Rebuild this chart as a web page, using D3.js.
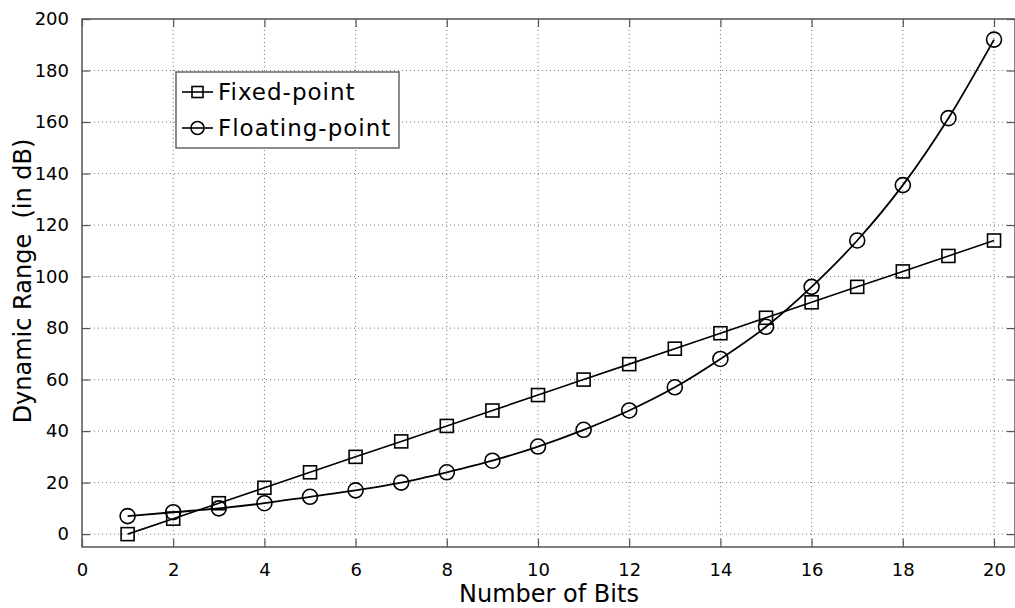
<!DOCTYPE html>
<html lang="en">
<head>
  <meta charset="UTF-8">
  <title>Dynamic Range</title>
  <style>
    body { margin: 0; background: #fff; }
    text { font-family: "DejaVu Sans", sans-serif; fill: #000; }
  </style>
</head>
<body>
  <div id="chart"></div>

  <script src="https://d3js.org/d3.v7.min.js"></script>
  <script>

    // data
    const bits = [1,2,3,4,5,6,7,8,9,10,11,12,13,14,15,16,17,18,19,20];
    const fixedPoint = [0,6,12,18,24,30,36,42,48,54,60,66,72,78,84,90,96,102,108,114];
    const floatingPoint = [7,8.5,10,12,14.5,17,20,24,28.5,34,40.5,48,57,68,80.5,96,114,135.5,161.5,192];
    const xTicks = [0,2,4,6,8,10,12,14,16,18,20];
    const yTicks = [0,20,40,60,80,100,120,140,160,180,200];
    const seriesNames = ["Fixed-point", "Floating-point"];

    const width = 1015,
          height = 608,
          margin = {top: 19, right: 0, bottom: 61, left: 82};

    const svg = d3.select("#chart")
      .append("svg")
      .attr("width", width)
      .attr("height", height);

    const x = d3.scaleLinear([0, 20.46], [margin.left, width - margin.right]);
    const y = d3.scaleLinear([-5, 200], [height - margin.bottom, margin.top]);

    const x0 = margin.left, x1 = width - margin.right,
          y0 = height - margin.bottom, y1 = margin.top;

    // dotted grid
    svg.append("g")
      .selectAll("line")
      .data(xTicks.slice(1))
      .join("line")
      .attr("x1", d => x(d)).attr("x2", d => x(d))
      .attr("y1", y0).attr("y2", y1)
      .attr("stroke", "#777").attr("stroke-dasharray", "1,3");

    svg.append("g")
      .selectAll("line")
      .data(yTicks)
      .join("line")
      .attr("x1", x0).attr("x2", x1)
      .attr("y1", d => y(d)).attr("y2", d => y(d))
      .attr("stroke", "#777").attr("stroke-dasharray", "1,3");

    // frame
    svg.append("rect")
      .attr("x", x0).attr("y", y1)
      .attr("width", x1 - x0).attr("height", y0 - y1)
      .attr("fill", "none").attr("stroke", "#555").attr("stroke-width", 1.5);

    // axes, ticks pointing inward
    const tk = 8;
    const axB = svg.append("g")
      .attr("transform", `translate(0,${y0})`)
      .call(d3.axisBottom(x).tickValues(xTicks).tickSizeInner(-tk).tickSizeOuter(0).tickPadding(16));
    const axT = svg.append("g")
      .attr("transform", `translate(0,${y1})`)
      .call(d3.axisTop(x).tickValues(xTicks).tickSizeInner(-tk).tickSizeOuter(0).tickFormat(""));
    const axL = svg.append("g")
      .attr("transform", `translate(${x0},0)`)
      .call(d3.axisLeft(y).tickValues(yTicks).tickSizeInner(-tk).tickSizeOuter(0).tickPadding(13));
    const axR = svg.append("g")
      .attr("transform", `translate(${x1},0)`)
      .call(d3.axisRight(y).tickValues(yTicks).tickSizeInner(-tk).tickSizeOuter(0).tickFormat(""));

    [axB, axT, axL, axR].forEach(g => {
      g.select(".domain").remove();
      g.selectAll(".tick line").attr("stroke", "#555").attr("stroke-width", 1.2);
      g.selectAll(".tick text").attr("font-size", 18).attr("font-family", "DejaVu Sans");
    });

    // lines
    const fixedLine = d3.line()
      .x((d, i) => x(bits[i])).y(d => y(d));
    const floatLine = d3.line()
      .x((d, i) => x(bits[i])).y(d => y(d))
      .curve(d3.curveMonotoneX);

    svg.append("path")
      .attr("d", fixedLine(fixedPoint))
      .attr("fill", "none").attr("stroke", "#000").attr("stroke-width", 1.6);
    svg.append("path")
      .attr("d", floatLine(floatingPoint))
      .attr("fill", "none").attr("stroke", "#000").attr("stroke-width", 1.8);

    // markers
    const sq = 13;
    svg.append("g")
      .selectAll("rect")
      .data(fixedPoint)
      .join("rect")
      .attr("x", (d, i) => x(bits[i]) - sq / 2)
      .attr("y", d => y(d) - sq / 2)
      .attr("width", sq).attr("height", sq)
      .attr("fill", "none").attr("stroke", "#000").attr("stroke-width", 1.6);

    svg.append("g")
      .selectAll("circle")
      .data(floatingPoint)
      .join("circle")
      .attr("cx", (d, i) => x(bits[i]))
      .attr("cy", d => y(d))
      .attr("r", 7.5)
      .attr("fill", "none").attr("stroke", "#000").attr("stroke-width", 1.6);

    // axis labels
    svg.append("text")
      .attr("x", 549)
      .attr("y", 602)
      .attr("text-anchor", "middle")
      .attr("font-size", 24)
      .text("Number of Bits");

    svg.append("text")
      .attr("transform", "translate(31,281) rotate(-90)")
      .attr("text-anchor", "middle")
      .attr("font-size", 24)
      .style("white-space", "pre")
      .text("Dynamic Range  (in dB)");

    // legend
    const legend = svg.append("g");
    legend.append("rect")
      .attr("x", 176).attr("y", 72)
      .attr("width", 223).attr("height", 76)
      .attr("fill", "#fff").attr("stroke", "#666").attr("stroke-width", 1.5);

    const rows = legend.selectAll(".legend-row")
      .data(seriesNames)
      .join("g")
      .attr("class", "legend-row")
      .attr("transform", (d, i) => `translate(0,${92 + i * 36})`);

    rows.append("line")
      .attr("x1", 182).attr("x2", 213)
      .attr("stroke", "#000").attr("stroke-width", 1.6);

    rows.filter((d, i) => i === 0).append("rect")
      .attr("x", 197.5 - sq / 2 + 1).attr("y", -sq / 2 + 1)
      .attr("width", sq - 2).attr("height", sq - 2)
      .attr("fill", "none").attr("stroke", "#000").attr("stroke-width", 1.6);

    rows.filter((d, i) => i === 1).append("circle")
      .attr("cx", 197.5).attr("cy", 0).attr("r", 6.5)
      .attr("fill", "none").attr("stroke", "#000").attr("stroke-width", 1.6);

    rows.append("text")
      .attr("x", 218).attr("y", 8)
      .attr("font-size", 23)
      .attr("letter-spacing", 1)
      .text(d => d);

  </script>
</body>
</html>
